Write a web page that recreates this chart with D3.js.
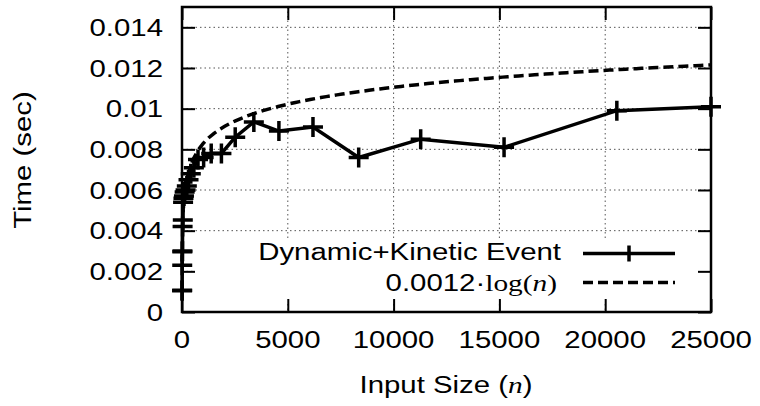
<!DOCTYPE html>
<html><head><meta charset="utf-8">
<script src="https://cdn.jsdelivr.net/npm/d3@7"></script>
<style>body{margin:0;background:#fff}svg{display:block}</style>
</head><body>
<svg id="c" width="760" height="406"></svg>
<script>
// ---- data ----
const inputSizes = [5, 8, 11, 15, 21, 28, 38, 51, 69, 93, 125, 169, 228, 308, 415, 561, 757, 1022, 1380, 1863, 2515, 3395, 4580, 6190, 8350, 11280, 15220, 20550, 25000];
const times      = [0.00105, 0.00107, 0.0023, 0.00296, 0.0030, 0.0042, 0.00452, 0.0054, 0.0056, 0.0057, 0.0059, 0.0060, 0.0062, 0.0065, 0.0068, 0.0071, 0.0075, 0.0076, 0.0078, 0.0078, 0.0086, 0.00935, 0.0089, 0.0091, 0.0076, 0.0085, 0.0081, 0.0099, 0.0101];
const logCoef = 0.0012;
const xTicks = [0, 5000, 10000, 15000, 20000, 25000];
const xTickLabels = ["0", "5000", "10000", "15000", "20000", "25000"];
const yTicks = [0, 0.002, 0.004, 0.006, 0.008, 0.010, 0.012, 0.014];
const yTickLabels = ["0", "0.002", "0.004", "0.006", "0.008", "0.01", "0.012", "0.014"];
const seriesNames = ["Dynamic+Kinetic Event"];

// ---- setup ----
const svg = d3.select("#c");
const L = 182, R = 711, T = 7, B = 312;
const x = d3.scaleLinear().domain([0, 25000]).range([L, R]);
const y = d3.scaleLinear().domain([0, 0.015]).range([B, T]);
const SX = 1.25;
const FS = 23.5;
const FONT = "'Liberation Sans', Arial, Helvetica, sans-serif";
const SERIF = "'Liberation Serif', 'Times New Roman', serif";

function stext(parent, px, py, str, anchor, rot) {
  return parent.append("text")
    .attr("transform", `translate(${px},${py})` + (rot ? ` rotate(${rot})` : "") + ` scale(${SX},1)`)
    .attr("text-anchor", anchor)
    .attr("font-family", FONT).attr("font-size", FS).attr("fill", "#000")
    .text(str);
}

// grid
const grid = svg.append("g").attr("stroke", "#555").attr("stroke-width", 1).attr("stroke-dasharray", "1.5,3");
yTicks.filter(t => t > 0).forEach(t => {
  grid.append("line").attr("x1", L).attr("x2", R).attr("y1", y(t)).attr("y2", y(t));
});
xTicks.filter(t => t > 0 && t < 25000).forEach(t => {
  grid.append("line").attr("x1", x(t)).attr("x2", x(t)).attr("y1", T).attr("y2", B);
});

// opaque key box
svg.append("rect").attr("x", 193).attr("y", 238).attr("width", R - 193 - 1).attr("height", 64).attr("fill", "#fff");

// axes ticks (inward, mirrored)
const tickLen = 13;
svg.append("g").attr("transform", `translate(0,${B})`)
  .call(d3.axisBottom(x).tickValues(xTicks).tickSize(-tickLen).tickFormat(""));
svg.append("g").attr("transform", `translate(0,${T})`)
  .call(d3.axisTop(x).tickValues(xTicks).tickSize(-tickLen).tickFormat(""));
svg.append("g").attr("transform", `translate(${L},0)`)
  .call(d3.axisLeft(y).tickValues(yTicks).tickSize(-tickLen).tickFormat(""));
svg.append("g").attr("transform", `translate(${R},0)`)
  .call(d3.axisRight(y).tickValues(yTicks).tickSize(-tickLen).tickFormat(""));
svg.selectAll(".domain").remove();
svg.selectAll(".tick line").attr("stroke", "#000").attr("stroke-width", 2);

// border
svg.append("rect").attr("x", L).attr("y", T).attr("width", R - L).attr("height", B - T)
  .attr("fill", "none").attr("stroke", "#000").attr("stroke-width", 2.5);

// tick labels
yTicks.forEach((t, i) => stext(svg, 163, y(t) + 8.5, yTickLabels[i], "end"));
xTicks.forEach((t, i) => stext(svg, x(t), 348, xTickLabels[i], "middle"));

// axis titles
const xl = stext(svg, 446, 393, "", "middle");
xl.append("tspan").text("Input Size (");
xl.append("tspan").attr("font-family", SERIF).attr("font-style", "italic").text("n");
xl.append("tspan").text(")");
stext(svg, 31, 160, "Time (sec)", "middle", -90);

// log curve
const sampleN = d3.range(1, 100).map(i => i * 25000 / 99);
const logLine = d3.line().x(d => x(d)).y(d => y(logCoef * Math.log(d)));
svg.append("path").datum(sampleN).attr("d", logLine)
  .attr("fill", "none").attr("stroke", "#000").attr("stroke-width", 3.5).attr("stroke-dasharray", "10,5");

// data series
const pts = inputSizes.map((n, i) => [n, times[i]]);
svg.append("path").datum(pts)
  .attr("d", d3.line().x(d => x(d[0])).y(d => y(d[1])))
  .attr("fill", "none").attr("stroke", "#000").attr("stroke-width", 3.5).attr("stroke-linejoin", "miter");
const cross = "M-10,0H10M0,-10V10";
svg.append("g").selectAll("path").data(pts).join("path")
  .attr("transform", d => `translate(${x(d[0])},${y(d[1])})`)
  .attr("d", cross).attr("stroke", "#000").attr("stroke-width", 3.5).attr("fill", "none");

// legend
stext(svg, 561, 260, seriesNames[0], "end");
svg.append("line").attr("x1", 583).attr("x2", 675).attr("y1", 253.5).attr("y2", 253.5)
  .attr("stroke", "#000").attr("stroke-width", 3.5);
svg.append("path").attr("transform", "translate(629,253.5)").attr("d", "M0,-8V8")
  .attr("stroke", "#000").attr("stroke-width", 3.5);
const l2 = stext(svg, 557, 291, "", "end");
l2.append("tspan").text("0.0012\u00B7");
l2.append("tspan").attr("font-family", SERIF).text("log(");
l2.append("tspan").attr("font-family", SERIF).attr("font-style", "italic").text("n");
l2.append("tspan").attr("font-family", SERIF).text(")");
svg.append("line").attr("x1", 583).attr("x2", 675).attr("y1", 282.5).attr("y2", 282.5)
  .attr("stroke", "#000").attr("stroke-width", 3.5).attr("stroke-dasharray", "10,5");
</script>
</body></html>
